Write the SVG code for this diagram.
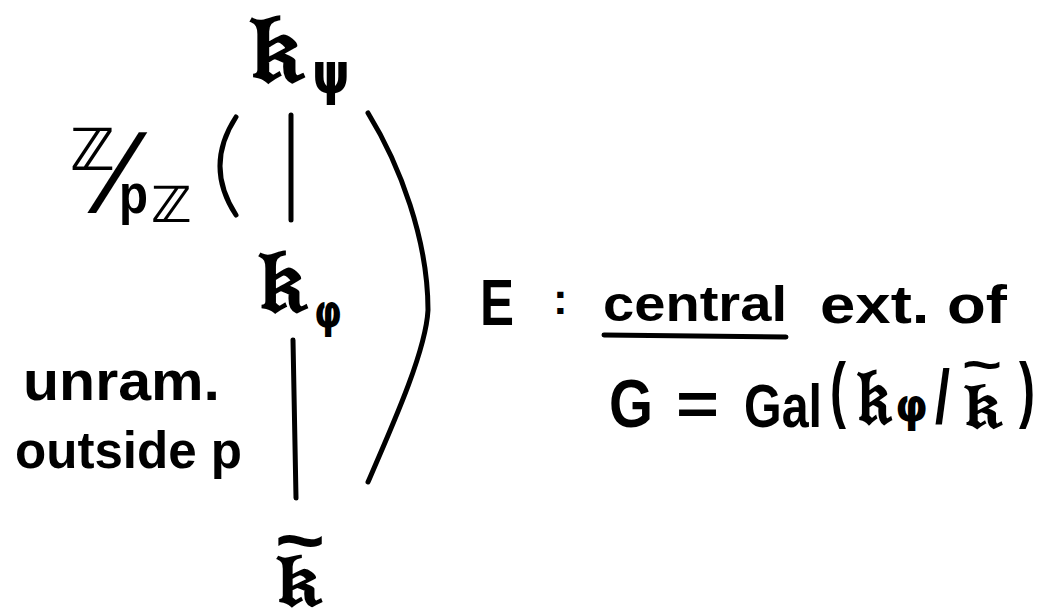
<svg xmlns="http://www.w3.org/2000/svg" width="1042" height="612" viewBox="0 0 1042 612">
<style>
.t{font-family:"Liberation Sans","DejaVu Sans",sans-serif;font-weight:bold;fill:#000}
.g{font-family:"DejaVu Sans","Liberation Sans",sans-serif;font-weight:bold;fill:#000}
.k{font-family:"DejaVu Sans","Noto Sans","Liberation Sans",sans-serif;font-weight:bold;fill:#000}
.s{fill:none;stroke:#000;stroke-width:5;stroke-linecap:round}
</style>
<rect width="1042" height="612" fill="#fff"/>
<g id="connectors">
<line class="s" x1="291" y1="115" x2="291" y2="220"/>
<line class="s" x1="293" y1="340" x2="296" y2="498"/>
</g>
<g id="node-kpsi">
<text class="k" x="248" y="82" font-size="98" textLength="56" lengthAdjust="spacingAndGlyphs">𝔨</text>
<text class="g" x="312" y="93" font-size="56" textLength="38" lengthAdjust="spacingAndGlyphs">ψ</text>
</g>
<g id="node-kphi">
<text class="k" x="257" y="312" font-size="90" textLength="51" lengthAdjust="spacingAndGlyphs">𝔨</text>
<text class="g" x="314" y="327" font-size="46" textLength="28" lengthAdjust="spacingAndGlyphs" fill="#000">φ</text>
</g>
<g id="node-ktilde">
<text class="t" x="275" y="566" font-size="76" textLength="50" lengthAdjust="spacingAndGlyphs">~</text>
<text class="k" x="275" y="606" font-size="76" textLength="47" lengthAdjust="spacingAndGlyphs">𝔨</text>
</g>
<g id="brackets">
<path class="s" d="M236,117 Q204,166 236,215"/>
<path class="s" d="M368,113 C400,165 428,240 428,310 C426,350 395,420 368,482"/>
</g>
<g id="label-zpz">
<text class="t" x="70" y="170" font-size="58" textLength="45" lengthAdjust="spacingAndGlyphs">ℤ</text>
<text x="165" y="212" font-size="110" transform="skewX(-20)" style="font-family:'Liberation Sans',sans-serif;font-weight:normal;fill:#000">/</text>
<text class="t" x="119" y="213" font-size="56" textLength="29" lengthAdjust="spacingAndGlyphs">p</text>
<text class="t" x="151" y="222" font-size="50" textLength="41" lengthAdjust="spacingAndGlyphs">ℤ</text>
</g>
<g id="label-unram">
<text class="t" x="23" y="400" font-size="56" textLength="197" lengthAdjust="spacingAndGlyphs">unram.</text>
<text class="t" x="15" y="468" font-size="52" textLength="227" lengthAdjust="spacingAndGlyphs">outside p</text>
</g>
<g id="label-E">
<text class="t" x="480" y="325" font-size="64" textLength="34" lengthAdjust="spacingAndGlyphs">E</text>
<text class="t" x="553" y="314" font-size="44">:</text>
<text class="t" x="603" y="321" font-size="50" textLength="184" lengthAdjust="spacingAndGlyphs">central</text>
<line class="s" x1="604" y1="335" x2="786" y2="337"/>
<text class="t" x="820" y="323" font-size="54" textLength="187" lengthAdjust="spacingAndGlyphs">ext. of</text>
<text class="t" x="609" y="427" font-size="68" textLength="44" lengthAdjust="spacingAndGlyphs">G</text>
<text class="t" x="676" y="425" font-size="62" textLength="43" lengthAdjust="spacingAndGlyphs">=</text>
<text class="t" x="744" y="427" font-size="62" textLength="78" lengthAdjust="spacingAndGlyphs">Gal</text>
<text class="t" x="830" y="414" font-size="72" textLength="16" lengthAdjust="spacingAndGlyphs">(</text>
<text class="k" x="856" y="424" font-size="80" textLength="36" lengthAdjust="spacingAndGlyphs">𝔨</text>
<text class="g" x="895" y="421" font-size="46" textLength="33" lengthAdjust="spacingAndGlyphs" fill="#000">φ</text>
<text class="t" x="935" y="423" font-size="76" textLength="15" lengthAdjust="spacingAndGlyphs">/</text>
<text class="t" x="962" y="382" font-size="50" textLength="40" lengthAdjust="spacingAndGlyphs">~</text>
<text class="k" x="963" y="428" font-size="66" textLength="39" lengthAdjust="spacingAndGlyphs">𝔨</text>
<text class="t" x="1019" y="414" font-size="72" textLength="16" lengthAdjust="spacingAndGlyphs">)</text>
</g>
</svg>
